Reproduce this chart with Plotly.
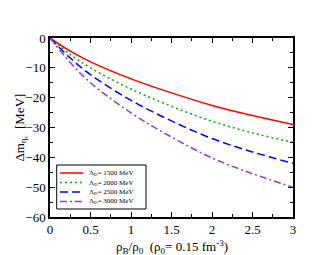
import plotly.graph_objects as go

x_vals = [0, 0.25, 0.5, 1.0, 1.5, 2.0, 2.5, 3.0]
red_1500 = [0, -4.4, -8.0, -13.7, -18.4, -22.6, -26.0, -29.0]
green_2000 = [0, -5.5, -10.0, -17.1, -22.9, -27.9, -31.8, -35.0]
blue_2500 = [0, -6.7, -12.3, -20.9, -27.8, -33.7, -38.2, -42.0]
purple_3000 = [0, -8.2, -15.0, -25.1, -33.2, -40.2, -45.5, -50.0]
labels = ["Λ<sub>D</sub>= 1500 MeV", "Λ<sub>D</sub>= 2000 MeV",
          "Λ<sub>D</sub>= 2500 MeV", "Λ<sub>D</sub>= 3000 MeV"]
x_title = "ρ<sub>B</sub>/ρ<sub>0</sub>  (ρ<sub>0</sub>= 0.15 fm<sup>-3</sup>)"
y_title = "Δm<sub>η<sub>c</sub></sub>  [MeV]"

series = [red_1500, green_2000, blue_2500, purple_3000]
colors = ["#ff0000", "#00b000", "#0000ff", "#8a3fd0"]
dashes = ["solid", "2px,3px", "8px,4px", "7px,3px,2px,3px"]

font_family = "Liberation Serif"

fig = go.Figure()
for ys, c, d, name in zip(series, colors, dashes, labels):
    fig.add_trace(go.Scatter(x=x_vals, y=ys, mode="lines", name=name, showlegend=False,
                             line=dict(color=c, dash=d, width=1.5, shape="spline")))

# hand-drawn legend box (paper coordinates)
shapes = [dict(type="rect", xref="paper", yref="paper", x0=0.0276, x1=0.395,
               y0=0.0447, y1=0.2905, line=dict(color="black", width=1),
               fillcolor="white", layer="above")]
annotations = []
row_y = [0.2458, 0.1927, 0.1397, 0.0866]
for ry, c, d, name in zip(row_y, colors, dashes, labels):
    shapes.append(dict(type="line", xref="paper", yref="paper", x0=0.041, x1=0.136,
                       y0=ry, y1=ry, line=dict(color=c, dash=d, width=1.5), layer="above"))
    annotations.append(dict(text=name, xref="paper", yref="paper", x=0.152, y=ry,
                            xanchor="left", yanchor="middle", showarrow=False,
                            font=dict(size=7, color="black", family=font_family)))

# axis titles as annotations
annotations.append(dict(text=x_title, xref="paper", yref="paper", x=0.5, y=-0.165,
                        xanchor="center", yanchor="middle", showarrow=False,
                        font=dict(size=13, color="black", family=font_family)))
annotations.append(dict(text=y_title, xref="paper", yref="paper", x=-0.123, y=0.5,
                        xanchor="center", yanchor="middle", showarrow=False, textangle=-90,
                        font=dict(size=13, color="black", family=font_family)))

axis_common = dict(showgrid=False, zeroline=False, showline=True, linecolor="black",
                   linewidth=1.5, mirror="ticks", ticks="inside", ticklen=5,
                   tickwidth=1, tickcolor="black", automargin=False,
                   tickfont=dict(family=font_family, size=13, color="black"))
fig.update_layout(
    template="none",
    width=330, height=255,
    margin=dict(l=42, r=45, t=30, b=46),
    paper_bgcolor="white", plot_bgcolor="white",
    font=dict(family=font_family, color="black"),
    showlegend=False,
    shapes=shapes, annotations=annotations,
    xaxis=dict(range=[0, 3], tickvals=[0, 0.5, 1, 1.5, 2, 2.5, 3],
               ticktext=["0", "0.5", "1", "1.5", "2", "2.5", "3"],
               minor=dict(dtick=0.25, ticks="inside", ticklen=3, tickcolor="black"),
               **axis_common),
    yaxis=dict(range=[-60, 0], dtick=10,
               minor=dict(dtick=5, ticks="inside", ticklen=3, tickcolor="black"),
               **axis_common),
)

fig.write_html("out.html")
